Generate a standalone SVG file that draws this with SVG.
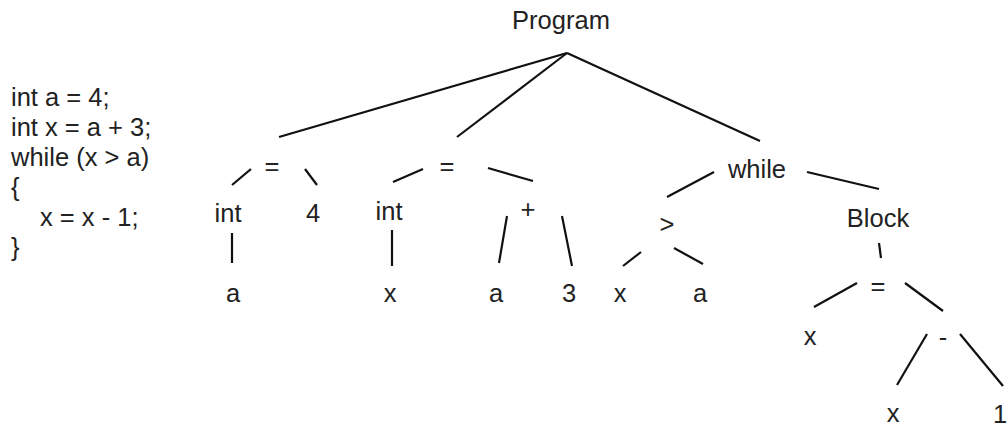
<svg xmlns="http://www.w3.org/2000/svg" width="1007" height="427" viewBox="0 0 1007 427">
  <style>
    text { font-family: "Liberation Sans", Arial, sans-serif; font-size: 25.5px; fill: #222; }
    .n text { text-anchor: middle; }
    #edges line { stroke: #111; stroke-width: 2.2; stroke-linecap: butt; }
  </style>
  <rect width="1007" height="427" fill="#fff"/>

  <!-- source program -->
  <g id="source">
    <text x="11" y="105.5">int a = 4;</text>
    <text x="11" y="135.5">int x = a + 3;</text>
    <text x="11" y="165.5">while (x &gt; a)</text>
    <text x="11" y="195.5">{</text>
    <text x="40" y="225.5">x = x - 1;</text>
    <text x="11" y="255.5">}</text>
  </g>

  <!-- syntax tree edges -->
  <g id="edges">
    <line x1="567" y1="53" x2="279" y2="137"/>
    <line x1="567" y1="53" x2="457" y2="137"/>
    <line x1="567" y1="53" x2="760" y2="141"/>

    <line x1="251" y1="169" x2="232" y2="185"/>
    <line x1="305" y1="169" x2="317" y2="185"/>
    <line x1="232" y1="233" x2="232" y2="263"/>

    <line x1="423" y1="169" x2="393" y2="182"/>
    <line x1="488" y1="168" x2="533" y2="181"/>
    <line x1="392" y1="230" x2="392" y2="266"/>
    <line x1="507" y1="216" x2="499" y2="263"/>
    <line x1="562" y1="216" x2="572" y2="266"/>

    <line x1="714" y1="172" x2="667" y2="197"/>
    <line x1="807" y1="172" x2="879" y2="189"/>
    <line x1="641" y1="252" x2="623" y2="266"/>
    <line x1="674" y1="248" x2="703" y2="264"/>
    <line x1="879" y1="243" x2="881" y2="258"/>
    <line x1="857" y1="283" x2="814" y2="307"/>
    <line x1="905" y1="283" x2="943" y2="311"/>
    <line x1="927" y1="334" x2="897" y2="385"/>
    <line x1="960" y1="334" x2="1003" y2="386"/>
  </g>

  <!-- syntax tree nodes -->
  <g id="n-program" class="n"><text x="561" y="29">Program</text></g>

  <g id="n-assign-a" class="n"><text x="272" y="175">=</text></g>
  <g id="n-int-a" class="n"><text x="228" y="221.5">int</text></g>
  <g id="n-4" class="n"><text x="313" y="222">4</text></g>
  <g id="n-a1" class="n"><text x="233" y="302">a</text></g>

  <g id="n-assign-x" class="n"><text x="447" y="175">=</text></g>
  <g id="n-int-x" class="n"><text x="389" y="220">int</text></g>
  <g id="n-x1" class="n"><text x="390" y="302">x</text></g>
  <g id="n-plus" class="n"><text x="528" y="218">+</text></g>
  <g id="n-a2" class="n"><text x="496" y="302">a</text></g>
  <g id="n-3" class="n"><text x="569" y="302">3</text></g>

  <g id="n-while" class="n"><text x="757" y="178">while</text></g>
  <g id="n-gt" class="n"><text x="667" y="233">&gt;</text></g>
  <g id="n-x2" class="n"><text x="620" y="302">x</text></g>
  <g id="n-a3" class="n"><text x="700" y="302">a</text></g>
  <g id="n-block" class="n"><text x="878" y="227">Block</text></g>
  <g id="n-assign-body" class="n"><text x="878" y="295">=</text></g>
  <g id="n-x3" class="n"><text x="810" y="345">x</text></g>
  <g id="n-minus" class="n"><text x="943" y="346">-</text></g>
  <g id="n-x4" class="n"><text x="893" y="422">x</text></g>
  <g id="n-1" class="n"><text x="1000" y="423">1</text></g>
</svg>
